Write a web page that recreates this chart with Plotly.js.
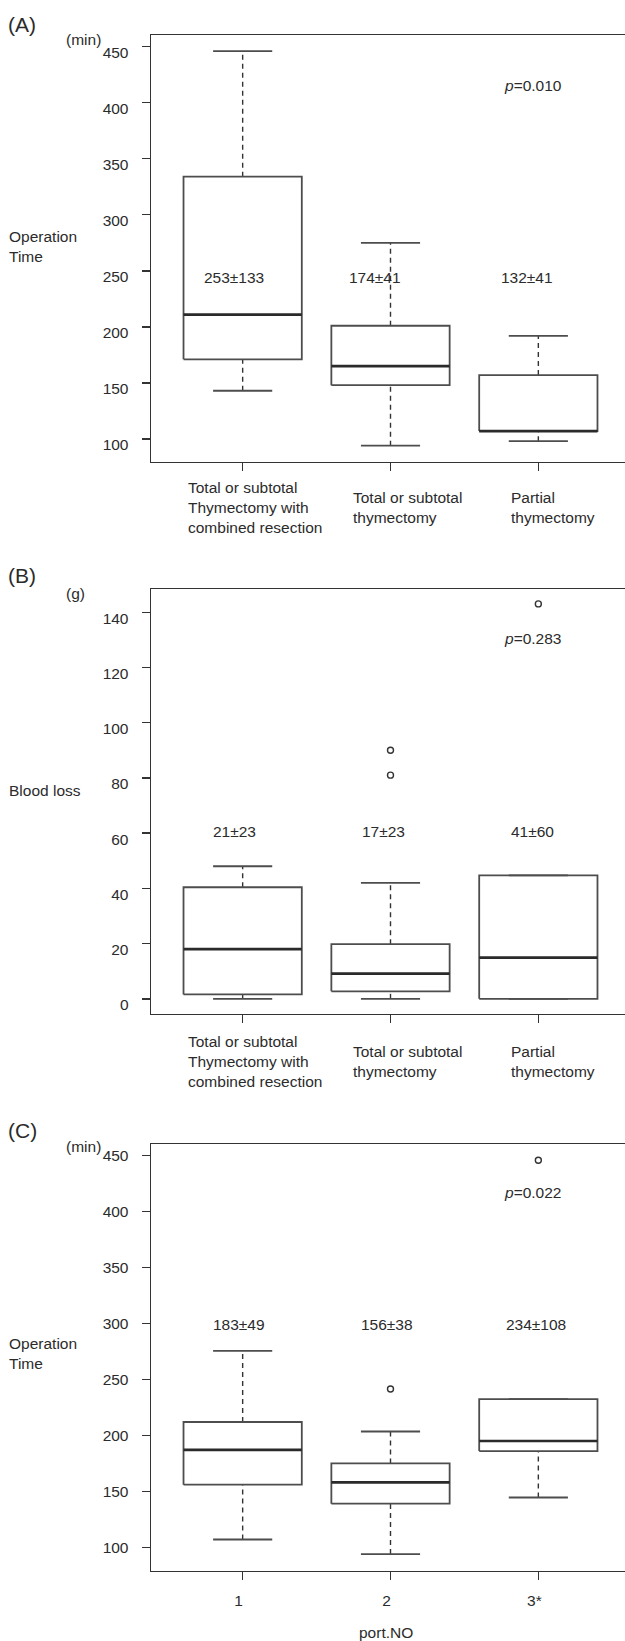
<!DOCTYPE html>
<html><head><meta charset="utf-8">
<script src="https://cdn.plot.ly/plotly-3.0.1.min.js"></script>
<style>html,body{margin:0;padding:0;overflow:hidden;background:#fff}#chart{width:640px;height:1641px}</style>
</head><body><div id="chart"></div>
<script>
// ---------- DATA ----------
const categoryIndex = [1, 2, 3];
const catLabelsAB = ["Total or subtotal<br>Thymectomy with<br>combined resection", "Total or subtotal<br>thymectomy", "Partial<br>thymectomy"];
const catLabelsC = ["1", "2", "3*"];

// Panel A: operation time (min) by procedure
const A_lowerCap = [143, 94, 98];
const A_q1 = [171, 148, 107];
const A_median = [211, 165, 107];
const A_q3 = [334, 201, 157];
const A_upperCap = [446, 275, 192];
const A_outX = [];
const A_outY = [];
const A_stats = ["253±133", "174±41", "132±41"];
const A_p = "0.010";

// Panel B: blood loss (g) by procedure
const B_lowerCap = [0, 0, 0];
const B_q1 = [1.6, 2.7, 0];
const B_median = [18, 9.1, 14.9];
const B_q3 = [40.4, 19.8, 44.7];
const B_upperCap = [48, 42, 44.7];
const B_outX = [2, 2, 3];
const B_outY = [90, 81, 143];
const B_stats = ["21±23", "17±23", "41±60"];
const B_p = "0.283";

// Panel C: operation time (min) by port number
const C_lowerCap = [107, 94, 144.5];
const C_q1 = [156, 139, 186];
const C_median = [187, 158, 195];
const C_q3 = [212, 175, 232.5];
const C_upperCap = [275.5, 203.5, 232.5];
const C_outX = [2, 3];
const C_outY = [241.5, 446];
const C_stats = ["183±49", "156±38", "234±108"];
const C_p = "0.022";

const yTicksTime = [100, 150, 200, 250, 300, 350, 400, 450];
const yTicksBlood = [0, 20, 40, 60, 80, 100, 120, 140];

// ---------- STYLE ----------
const LC = '#333333';
const BC = '#4d4d4d';
const TC = '#2b2b2b';
const FONT = 'Liberation Sans, Arial, Helvetica, sans-serif';
const FS = 15.5;
const HALF_BOX = 0.4, HALF_CAP = 0.2;

function boxTraces(ax, lo, q1, med, q3, hi, outX, outY) {
  const xa = 'x' + ax, ya = 'y' + ax;
  const rx = [], ry = [], mx = [], my = [], wx = [], wy = [], cx = [], cy = [];
  categoryIndex.forEach((c, i) => {
    rx.push(c - HALF_BOX, c + HALF_BOX, c + HALF_BOX, c - HALF_BOX, c - HALF_BOX, null);
    ry.push(q1[i], q1[i], q3[i], q3[i], q1[i], null);
    mx.push(c - HALF_BOX, c + HALF_BOX, null);
    my.push(med[i], med[i], null);
    if (hi[i] > q3[i]) { wx.push(c, c, null); wy.push(q3[i], hi[i], null); }
    if (lo[i] < q1[i]) { wx.push(c, c, null); wy.push(lo[i], q1[i], null); }
    cx.push(c - HALF_CAP, c + HALF_CAP, null, c - HALF_CAP, c + HALF_CAP, null);
    cy.push(hi[i], hi[i], null, lo[i], lo[i], null);
  });
  const base = {type: 'scatter', mode: 'lines', xaxis: xa, yaxis: ya, hoverinfo: 'skip', showlegend: false};
  const t = [
    Object.assign({}, base, {x: wx, y: wy, line: {color: LC, width: 1.4, dash: '5px,4px'}}),
    Object.assign({}, base, {x: cx, y: cy, line: {color: BC, width: 1.8}}),
    Object.assign({}, base, {x: rx, y: ry, line: {color: BC, width: 1.8}}),
    Object.assign({}, base, {x: mx, y: my, line: {color: '#2a2a2a', width: 2.7}})
  ];
  if (outX.length) t.push({type: 'scatter', mode: 'markers', xaxis: xa, yaxis: ya, x: outX, y: outY, hoverinfo: 'skip', showlegend: false,
    marker: {symbol: 'circle-open', size: 6, color: LC, line: {width: 1.4, color: LC}}});
  return t;
}

const traces = [].concat(
  boxTraces('', A_lowerCap, A_q1, A_median, A_q3, A_upperCap, A_outX, A_outY),
  boxTraces('2', B_lowerCap, B_q1, B_median, B_q3, B_upperCap, B_outX, B_outY),
  boxTraces('3', C_lowerCap, C_q1, C_median, C_q3, C_upperCap, C_outX, C_outY)
);

function xAxis(anchor, showLabels) {
  return {domain: [0, 1], anchor: anchor, range: [0.38, 3.62], tickvals: categoryIndex, ticktext: catLabelsC,
    showticklabels: showLabels, ticks: 'outside', ticklen: 8, tickwidth: 1.4, tickcolor: LC,
    showline: true, linecolor: LC, linewidth: 1.4, mirror: true, showgrid: false, zeroline: false,
    ticklabelstandoff: 7, ticklabelshift: -4, tickfont: {family: FONT, size: FS, color: TC}};
}
function yAxis(anchor, domain, range, ticks, shift) {
  return {domain: domain, anchor: anchor, range: range, tickvals: ticks, ticktext: ticks.map(String),
    ticks: 'outside', ticklen: 8, tickwidth: 1.4, tickcolor: LC,
    showline: true, linecolor: LC, linewidth: 1.4, mirror: true, showgrid: false, zeroline: false,
    ticklabelstandoff: 10, ticklabelshift: shift, tickfont: {family: FONT, size: FS, color: TC}};
}

const ann = [];
function txt(o) { ann.push(Object.assign({showarrow: false, font: {family: FONT, size: FS, color: TC}}, o)); }

function panelText(ax, letter, unit, ytitle, ytitleShift, stats, statY, statShift, p, pY, pShift, catLabels, labShift, labY, letterShift, unitShift) {
  const xd = (ax === '' ? 'x' : 'x' + ax) + ' domain';
  const yd = (ax === '' ? 'y' : 'y' + ax) + ' domain';
  const xr = 'x' + ax, yr = 'y' + ax;
  txt({text: letter, xref: xd, yref: yd, x: 0, y: 1, xanchor: 'left', yanchor: 'middle', xshift: -145, yshift: letterShift, font: {family: FONT, size: 21, color: TC}});
  txt({text: unit, xref: xd, yref: yd, x: 0, y: 1, xanchor: 'left', yanchor: 'middle', xshift: -87, yshift: unitShift});
  txt({text: ytitle, xref: xd, yref: yd, x: 0, y: 0.5, xanchor: 'left', yanchor: 'middle', align: 'left', xshift: -144, yshift: ytitleShift});
  stats.forEach((s, i) => txt({text: s, xref: xr, yref: yr, x: categoryIndex[i], y: statY, xanchor: 'center', yanchor: 'middle', xshift: statShift[i]}));
  txt({text: '<i>p</i>=' + p, xref: xr, yref: yr, x: categoryIndex[2], y: pY, xanchor: 'center', yanchor: 'middle', xshift: pShift});
  if (catLabels) catLabels.forEach((s, i) => txt({text: s, xref: xr, yref: yd, x: categoryIndex[i], y: 0, xanchor: 'left', yanchor: 'middle', align: 'left', xshift: labShift[i], yshift: labY}));
}

panelText('', '(A)', '(min)', 'Operation<br>Time', 2, A_stats, 244, [-9, -16, -11], A_p, 415.6, -5, catLabelsAB, [-57, -40, -29], -46, 11, -4);
panelText('2', '(B)', '(g)', 'Blood loss', 11, B_stats, 60.5, [-8, -7, -6], B_p, 130.5, -6, catLabelsAB, [-57, -40, -29], -47, 14, -4);
panelText('3', '(C)', '(min)', 'Operation<br>Time', 4, C_stats, 299, [-4, -4, -2], C_p, 416.7, -6, null, null, 0, 14, -2);
txt({text: 'port.NO', xref: 'x3 domain', yref: 'y3 domain', x: 0.5, y: 0, xanchor: 'center', yanchor: 'middle', xshift: -5, yshift: -62});

const layout = {
  width: 640, height: 1641, margin: {l: 151, r: 10, t: 0, b: 0},
  paper_bgcolor: '#fff', plot_bgcolor: '#fff', showlegend: false,
  font: {family: FONT, size: FS, color: TC},
  xaxis: xAxis('y', false),
  yaxis: yAxis('x', [0.71865, 0.97867], [79.7, 460.4], yTicksTime, 6),
  xaxis2: xAxis('y2', false),
  yaxis2: yAxis('x2', [0.38208, 0.64107], [-5.5, 148.4], yTicksBlood, 6),
  xaxis3: xAxis('y3', true),
  yaxis3: yAxis('x3', [0.04284, 0.30268], [79.1, 460.2], yTicksTime, 4.5),
  annotations: ann
};

Plotly.newPlot('chart', traces, layout, {displayModeBar: false, staticPlot: true});
</script>
</body></html>
